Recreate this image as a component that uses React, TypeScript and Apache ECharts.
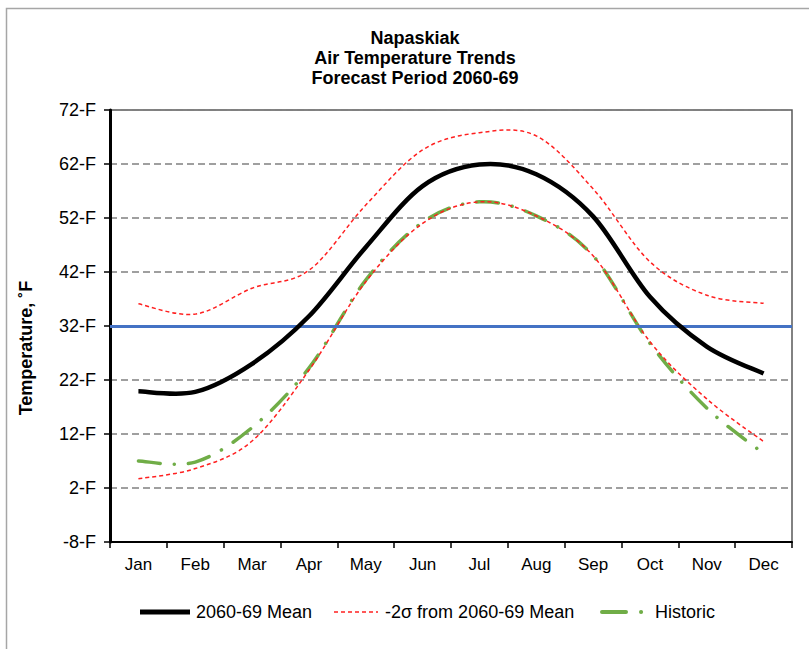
import React, { useEffect, useRef } from "react";
import * as echarts from "echarts";

const months = ["Jan", "Feb", "Mar", "Apr", "May", "Jun", "Jul", "Aug", "Sep", "Oct", "Nov", "Dec"];
const mean2060 = [19.9, 19.8, 25.0, 33.8, 46.6, 57.9, 61.9, 60.1, 52.3, 37.4, 28.2, 23.2];
const upper2sigma = [36.1, 34.2, 39.0, 42.3, 54.4, 64.6, 67.8, 67.2, 57.4, 43.9, 37.7, 36.2];
const lower2sigma = [3.7, 5.6, 10.7, 23.8, 40.2, 51.0, 55.0, 52.4, 45.0, 29.1, 18.5, 10.6];
const historic = [7.0, 6.8, 13.2, 24.2, 40.5, 51.2, 55.0, 52.4, 45.0, 28.8, 16.8, 8.4];
const freezing = 32;
const yMin = -8;
const yMax = 72;
const yStep = 10;
const legendNames = ["2060-69 Mean", "-2σ from 2060-69 Mean", "Historic"];

const FONT = "'Liberation Sans', Arial, sans-serif";

function catmullRom(p: number[][]): string {
  let d = `M${p[0][0]},${p[0][1]}`;
  for (let i = 0; i < p.length - 1; i++) {
    const p0 = p[i - 1] || p[i];
    const p1 = p[i];
    const p2 = p[i + 1];
    const p3 = p[i + 2] || p[i + 1];
    const c1x = p1[0] + (p2[0] - p0[0]) / 6;
    const c1y = p1[1] + (p2[1] - p0[1]) / 6;
    const c2x = p2[0] - (p3[0] - p1[0]) / 6;
    const c2y = p2[1] - (p3[1] - p1[1]) / 6;
    d += ` C${c1x},${c1y} ${c2x},${c2y} ${p2[0]},${p2[1]}`;
  }
  return d;
}

function curveSeries(name: string, values: number[], style: any, z: number) {
  return {
    type: "custom",
    name,
    data: values.map((v, i) => [i, v]),
    encode: { x: 0, y: 1 },
    z,
    silent: true,
    renderItem: (params: any, api: any) => {
      if (params.dataIndex !== 0) return null;
      const pts = values.map((v, i) => api.coord([i, v]));
      return {
        type: "path",
        shape: { pathData: catmullRom(pts) },
        style: { fill: "none", ...style },
      };
    },
  };
}

export default function App() {
  const ref = useRef<HTMLDivElement>(null);
  useEffect(() => {
    if (!ref.current) return;
    const chart = echarts.init(ref.current, null, { renderer: "svg" });
    const legendY = 612;
    const legendText = { fontFamily: FONT, fontSize: 18, fill: "#000", textVerticalAlign: "middle", textAlign: "left" };
    chart.setOption({
      animation: false,
      backgroundColor: "#ffffff",
      textStyle: { fontFamily: FONT, color: "#000" },
      title: {
        text: "Napaskiak\nAir Temperature Trends\nForecast Period 2060-69",
        left: 410,
        top: 23,
        textAlign: "center",
        textStyle: { fontFamily: FONT, fontSize: 18, fontWeight: "bold", lineHeight: 20, color: "#000" },
      },
      graphic: [
        {
          type: "polyline",
          shape: { points: [[6.5, 649], [6.5, 8.5], [809, 8.5]] },
          style: { stroke: "#a6a6a6", lineWidth: 1.5, fill: "none" },
          silent: true,
        },
        {
          type: "text",
          x: 26,
          y: 348,
          rotation: Math.PI / 2,
          style: { text: "Temperature, ˚F", fontFamily: FONT, fontSize: 18, fontWeight: "bold", fill: "#000", textAlign: "center", textVerticalAlign: "middle" },
          silent: true,
        },
        // legend
        { type: "line", shape: { x1: 140, y1: legendY, x2: 190, y2: legendY }, style: { stroke: "#000", lineWidth: 5 }, silent: true },
        { type: "text", x: 196, y: legendY, style: { text: legendNames[0], ...legendText }, silent: true },
        { type: "line", shape: { x1: 334, y1: legendY, x2: 378, y2: legendY }, style: { stroke: "#ff2020", lineWidth: 1.5, lineDash: [4, 3] }, silent: true },
        { type: "text", x: 385, y: legendY, style: { text: legendNames[1], ...legendText }, silent: true },
        { type: "line", shape: { x1: 602, y1: legendY, x2: 643, y2: legendY }, style: { stroke: "#70ad47", lineWidth: 4, lineDash: [24, 15, 0.1, 30], lineCap: "round" }, silent: true },
        { type: "text", x: 655, y: legendY, style: { text: legendNames[2], ...legendText }, silent: true },
      ],
      grid: { left: 110, right: 17, top: 110, bottom: 107, show: true, borderColor: "#595959", borderWidth: 1.5, backgroundColor: "transparent" },
      xAxis: {
        type: "category",
        data: months,
        boundaryGap: true,
        axisLine: { show: true, onZero: false, lineStyle: { color: "#000", width: 2 } },
        axisTick: { show: true, length: 6, lineStyle: { color: "#000", width: 1.5 } },
        axisLabel: { fontFamily: FONT, fontSize: 17, color: "#000", margin: 14 },
        splitLine: { show: false },
      },
      yAxis: {
        type: "value",
        min: yMin,
        max: yMax,
        interval: yStep,
        axisLine: { show: true, onZero: false, lineStyle: { color: "#000", width: 3 } },
        axisTick: { show: true, length: 6, lineStyle: { color: "#000", width: 1.5 } },
        axisLabel: { fontFamily: FONT, fontSize: 18, color: "#000", margin: 14, formatter: (v: number) => `${v}-F` },
        splitLine: { show: true, lineStyle: { color: "#808080", width: 1.5, type: [7, 4] } },
      },
      series: [
        {
          name: "32F",
          type: "line",
          data: [],
          symbol: "none",
          z: 1,
          markLine: {
            silent: true,
            symbol: "none",
            label: { show: false },
            lineStyle: { color: "#4472c4", width: 3, type: "solid" },
            data: [{ yAxis: freezing }],
          },
        },
        curveSeries("Historic", historic, { stroke: "#70ad47", lineWidth: 3.5, lineDash: [22, 14, 0.1, 14], lineCap: "round" }, 2),
        curveSeries("+2σ from 2060-69 Mean", upper2sigma, { stroke: "#ff2020", lineWidth: 1.5, lineDash: [4, 3] }, 3),
        curveSeries(legendNames[1], lower2sigma, { stroke: "#ff2020", lineWidth: 1.5, lineDash: [4, 3] }, 3),
        curveSeries(legendNames[0], mean2060, { stroke: "#000", lineWidth: 4.5 }, 5),
      ],
    });
    return () => chart.dispose();
  }, []);
  return <div ref={ref} style={{ position: "fixed", left: 0, top: 0, width: 809, height: 649 }} />;
}
